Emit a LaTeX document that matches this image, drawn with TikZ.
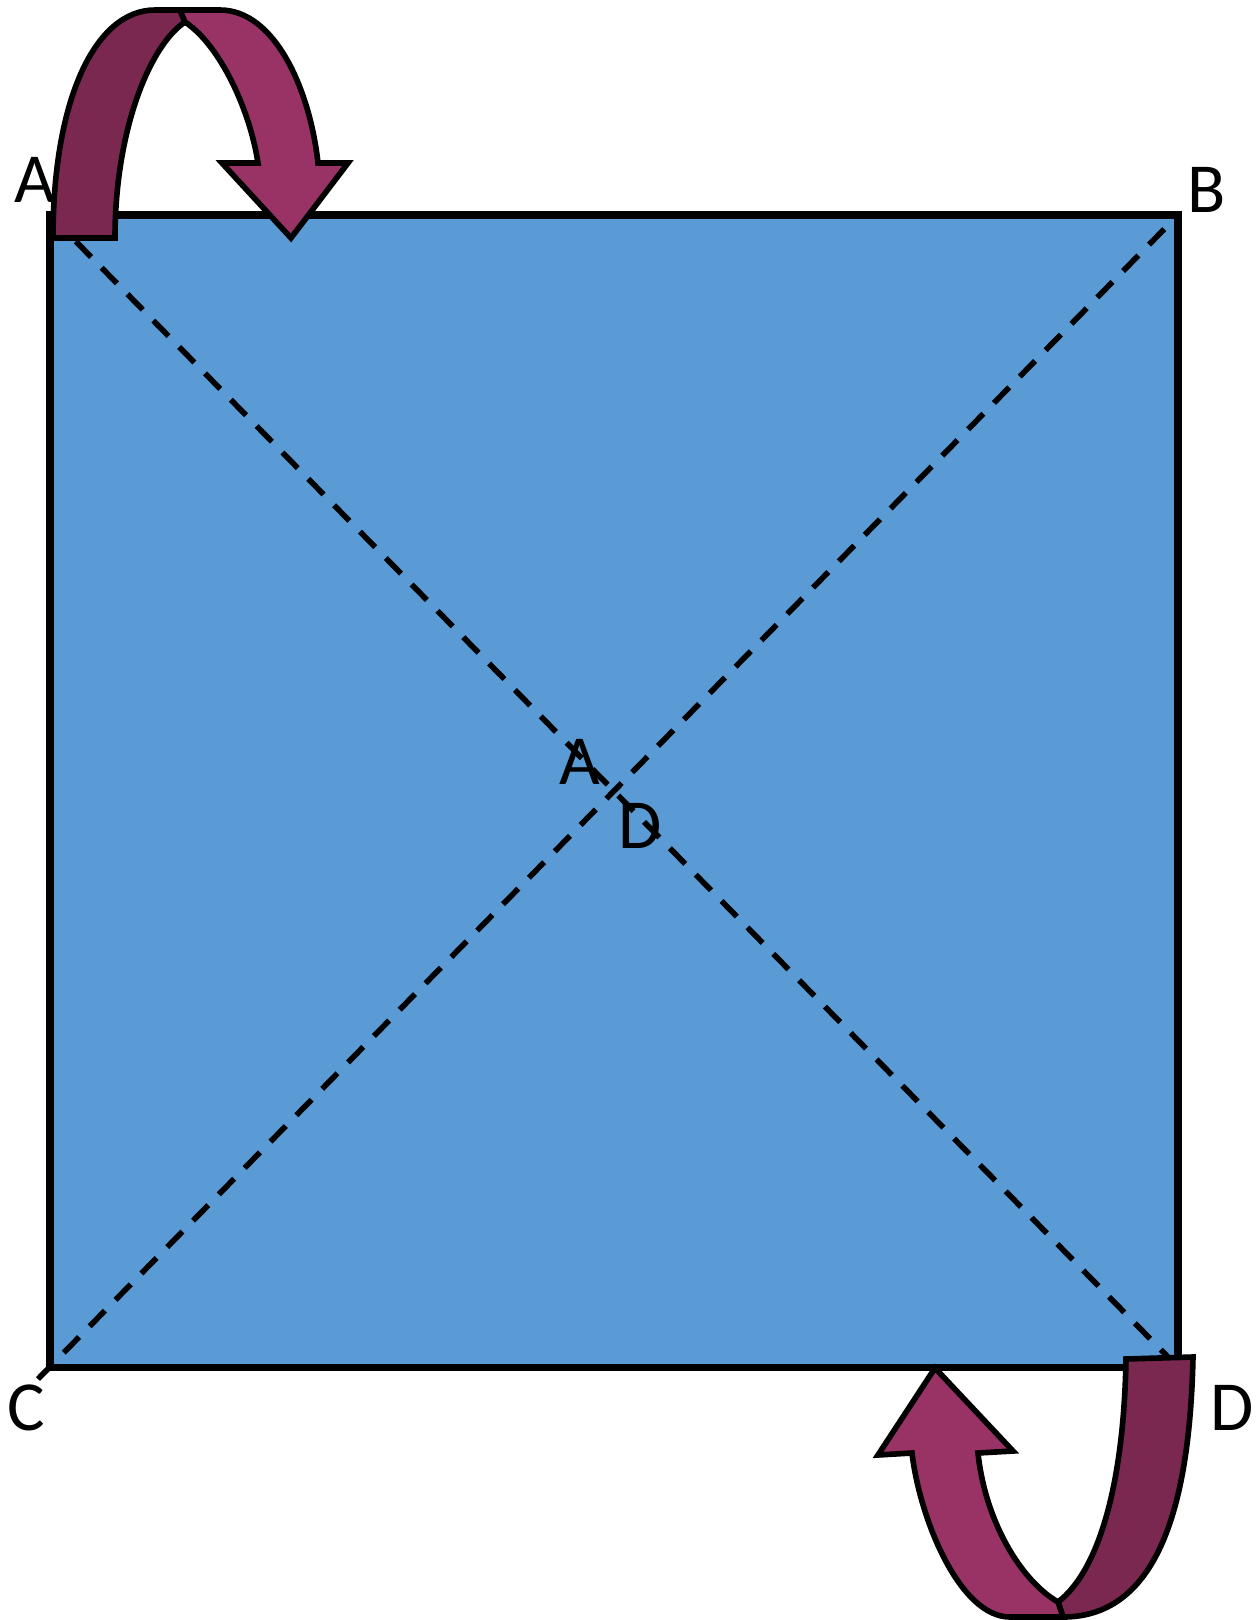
\documentclass[tikz,border=0pt]{standalone}
\usepackage{fontspec}
\setmainfont{Carlito}
\usetikzlibrary{calc}

\definecolor{sheetblue}{RGB}{91,155,213}
\definecolor{flipfront}{RGB}{153,51,102}
\definecolor{flipback}{RGB}{122,40,80}

\begin{document}
\begin{tikzpicture}[x=0.01cm,y=-0.01cm]
	\tikzstyle{edge}=[draw=black,line width=2pt,line join=miter]
	\tikzstyle{fold}=[draw=black,line width=1.6pt,dash pattern=on 6.2pt off 4.3pt]
	\tikzstyle{band}=[draw=black,line width=1.6pt,line join=miter]
	\tikzstyle{lbl}=[inner sep=0pt,font=\fontsize{20}{24}\selectfont]
	\useasboundingbox (0,0) rectangle (1258,1620);

  % corners of the sheet
  \coordinate (A) at (50,215);
  \coordinate (B) at (1178,215);
  \coordinate (C) at (50,1367);
  \coordinate (D) at (1178,1367);
  \coordinate (Cout) at (38,1379);

  \draw [edge,fill=sheetblue] (A) -- (B) -- (D) -- (C) -- cycle;

  % fold lines
  \draw [fold] (A) -- (1168,1357);
  \draw [fold] (Cout) -- (B);

  % labels
  \node [lbl] (labA) at (35,180) {A};
  \node [lbl] (labB) at (1207,190) {B};
  \node [lbl] (labC) at (26,1408) {C};
  \node [lbl] (labD) at (1232,1408) {D};
  \node [lbl] (midA) at (580,762) {A};
  \node [lbl] (midD) at (640,826) {D};

  % top flip arrow
  \draw [band,fill=flipback] (53,238) .. controls (53,100) and (95,10) .. (155,10)
     -- (180,10) -- (185,22) .. controls (150,45) and (115,130) .. (115,238) -- cycle;
  \draw [band,fill=flipfront] (180,10) -- (220,10) .. controls (275,10) and (310,90) .. (318,163)
     -- (348,163) -- (291,238) -- (222,163) -- (258,163)
     .. controls (250,110) and (220,45) .. (185,22) -- cycle;

  % bottom flip arrow
  \draw [band,fill=flipback] (1126,1359) -- (1193,1357) .. controls (1190,1500) and (1160,1617) .. (1063,1617)
     -- (1058,1602) .. controls (1100,1570) and (1124,1480) .. (1126,1359) -- cycle;
  \draw [band,fill=flipfront] (1063,1617) -- (1010,1617) .. controls (960,1617) and (920,1520) .. (912,1453)
     -- (878,1455) -- (935,1368) -- (1013,1451) -- (978,1453)
     .. controls (985,1520) and (1020,1580) .. (1058,1602) -- cycle;
\end{tikzpicture}
\end{document}
